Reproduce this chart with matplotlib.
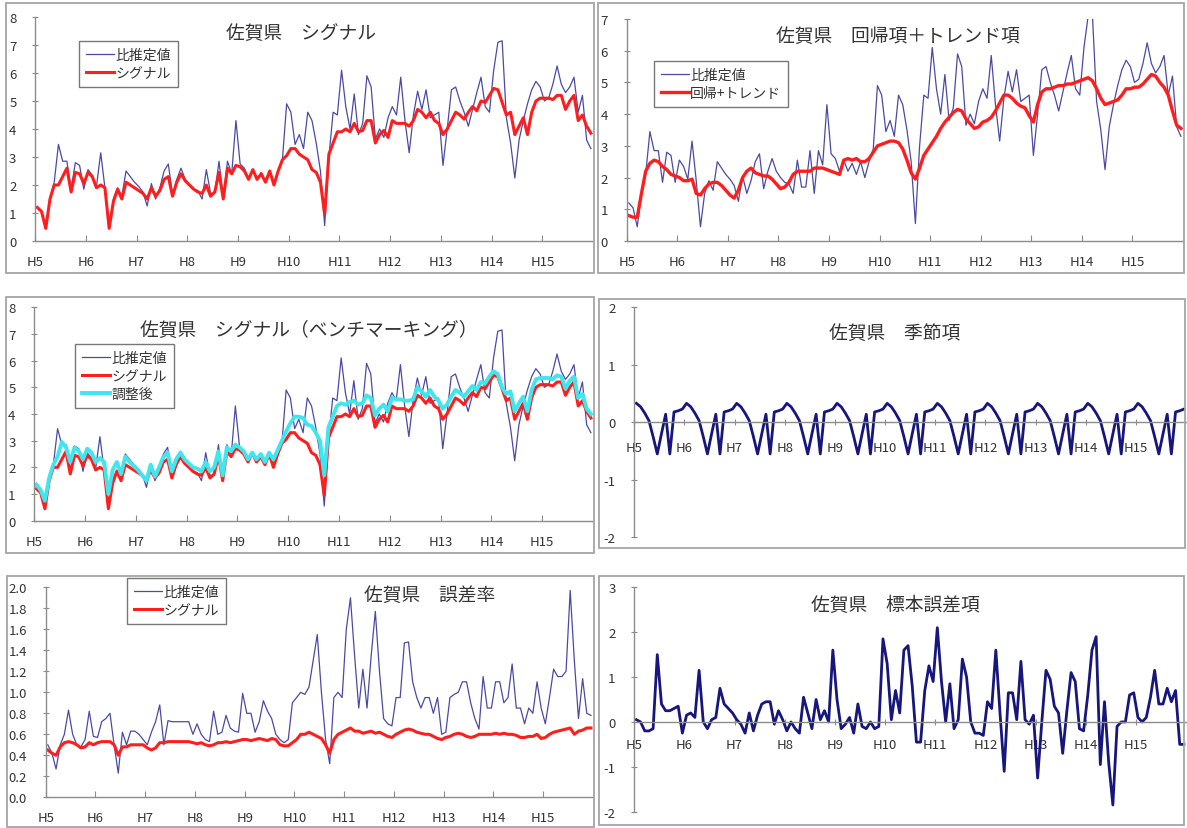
import numpy as np
import matplotlib
matplotlib.use('Agg')
import matplotlib.pyplot as plt
from matplotlib.patches import Rectangle
from matplotlib.lines import Line2D

plt.rcParams['font.family'] = ['Noto Sans CJK JP', 'DejaVu Sans']

# =========================
# DATA (monthly, H5.1 - H15.12)
# =========================
years = ['H5', 'H6', 'H7', 'H8', 'H9', 'H10', 'H11', 'H12', 'H13', 'H14', 'H15']

# 比推定値
hi_suitei = [
    1.2, 1.05, 0.45, 1.5, 2.1, 3.45, 2.85, 2.85, 1.85, 2.8, 2.7, 1.85,
    2.55, 2.35, 1.95, 3.15, 1.9, 0.45, 1.5, 1.9, 1.6, 2.5, 2.3, 2.1,
    1.95, 1.75, 1.25, 2.05, 1.5, 1.9, 2.5, 2.75, 1.65, 2.2, 2.6, 2.2,
    2.0, 1.85, 1.8, 1.5, 2.55, 1.7, 1.7, 2.85, 1.5, 2.85, 2.4, 4.3,
    2.75, 2.6, 2.2, 2.55, 2.2, 2.45, 2.1, 2.5, 2.0, 2.5, 2.9, 4.9,
    4.6, 3.45, 3.8, 3.3, 4.6, 4.3, 3.5, 2.5, 0.55, 3.0, 4.6, 4.5,
    6.1, 4.8, 4.0, 5.25, 3.8, 4.2, 5.9, 5.5, 3.65, 4.0, 3.7, 4.4,
    4.8, 4.5, 5.85, 4.3, 3.15, 4.5, 5.35, 4.7, 5.4, 4.4, 4.5, 4.6,
    2.7, 4.0, 5.4, 5.5, 5.0, 4.6, 4.1, 4.7, 5.3, 5.85, 4.8, 4.6,
    6.1, 7.1, 7.15, 4.4, 3.5, 2.25, 3.6, 4.3, 4.9, 5.4, 5.7, 5.5,
    5.0, 5.1, 5.6, 6.25, 5.6, 5.3, 5.5, 5.85, 4.6, 5.2, 3.6, 3.3,
]

# シグナル
signal = [
    1.2, 1.05, 0.45, 1.5, 2.0, 2.0, 2.3, 2.6, 1.75, 2.45, 2.4, 2.05,
    2.45, 2.3, 1.9, 2.0, 1.9, 0.45, 1.4, 1.85, 1.5, 2.1, 2.0, 1.9,
    1.8, 1.7, 1.5, 1.9, 1.6, 1.8, 2.2, 2.3, 1.6, 2.1, 2.4, 2.15,
    2.0, 1.85, 1.75, 1.7, 2.0, 1.6, 1.75, 2.45, 1.5, 2.6, 2.4, 2.7,
    2.65, 2.5, 2.2, 2.55, 2.2, 2.4, 2.1, 2.5, 2.0, 2.5, 2.9, 3.05,
    3.3, 3.3, 3.1, 3.0, 2.9, 2.55, 2.45, 2.1, 0.95, 3.1, 3.5, 3.9,
    3.9, 4.0, 3.9, 4.2, 3.9, 3.95, 4.3, 4.3, 3.5, 3.8, 3.95, 3.7,
    4.3, 4.2, 4.2, 4.2, 4.1, 4.3, 4.7, 4.6, 4.4, 4.6, 4.3, 4.2,
    3.8, 4.0, 4.3, 4.6, 4.5, 4.35, 4.6, 4.8, 4.65, 5.0, 4.95, 5.2,
    5.45, 5.4, 4.95, 4.5, 4.6, 3.8, 4.1, 4.4, 3.8, 4.6, 5.0, 5.1,
    5.1, 5.1, 5.05, 5.2, 5.2, 4.7, 5.0, 5.2, 4.3, 4.5, 4.1, 3.85,
]

# 回帰項＋トレンド項
kaiki_trend = [
    0.8, 0.75, 0.75, 1.5, 2.2, 2.45, 2.55, 2.5, 2.35, 2.25, 2.1, 2.05,
    2.0, 1.9, 1.9, 1.95, 1.5, 1.45, 1.65, 1.8, 1.85, 1.85, 1.75, 1.6,
    1.45, 1.35, 1.6, 2.0, 2.2, 2.3, 2.15, 2.1, 2.05, 2.05, 1.95, 1.8,
    1.65, 1.7, 1.85, 2.1, 2.2, 2.2, 2.2, 2.2, 2.3, 2.3, 2.3, 2.25,
    2.2, 2.15, 2.1, 2.55, 2.6, 2.55, 2.6, 2.5, 2.5, 2.6, 2.8, 3.0,
    3.05, 3.1, 3.15, 3.15, 3.1, 2.9, 2.55, 2.15, 1.95, 2.3, 2.7, 2.9,
    3.1, 3.3, 3.55, 3.75, 3.9, 4.05, 4.15, 4.1, 3.85, 3.7, 3.55, 3.6,
    3.75, 3.8, 3.9, 4.1, 4.35, 4.6, 4.6, 4.5, 4.35, 4.25, 4.2, 3.95,
    3.75, 4.3, 4.7, 4.8, 4.8, 4.85, 4.9, 4.9, 4.95, 4.95, 5.0, 5.05,
    5.1, 5.15, 5.05, 4.8, 4.5, 4.3, 4.35, 4.4, 4.45, 4.6, 4.8, 4.8,
    4.85, 4.85, 4.95, 5.1, 5.25, 5.2, 5.0, 4.85, 4.6, 4.1, 3.65, 3.55,
]

# 調整後
chosei_go = [
    1.35, 1.15, 0.75, 1.6, 2.1, 2.4, 2.95, 2.75, 2.2, 2.75, 2.6, 2.3,
    2.7, 2.55, 2.2, 2.35, 2.2, 1.0, 1.9, 2.2, 1.75, 2.4, 2.2, 2.05,
    1.9, 1.7, 1.5, 2.1, 1.65, 2.0, 2.4, 2.55, 1.85, 2.3, 2.55, 2.3,
    2.15, 2.0, 1.95, 1.85, 2.2, 1.85, 2.0, 2.6, 1.7, 2.75, 2.6, 2.85,
    2.75, 2.6, 2.3, 2.55, 2.3, 2.5, 2.2, 2.55, 2.3, 2.65, 3.0, 3.35,
    3.65, 3.9, 3.9, 3.85, 3.6, 3.55, 3.3, 3.0, 1.7, 3.5, 3.9, 4.3,
    4.4, 4.35, 4.45, 4.5, 4.35, 4.4, 4.7, 4.6, 3.95, 4.2, 4.35, 4.1,
    4.6, 4.55, 4.55, 4.5, 4.5, 4.55, 5.0, 4.85, 4.65, 4.9, 4.65, 4.5,
    4.2, 4.35, 4.65, 4.9, 4.8, 4.65, 4.85, 5.05, 4.9, 5.2, 5.15, 5.4,
    5.6, 5.5, 5.0, 4.75, 4.85, 4.1, 4.4, 4.65, 4.1, 4.9, 5.3, 5.35,
    5.35, 5.35, 5.3, 5.45, 5.4, 4.95, 5.25, 5.4, 4.6, 4.75, 4.2, 4.0,
]

# 季節項 (same pattern every year)
kisetsu_year = [0.33, 0.27, 0.16, 0.03, -0.25, -0.55, -0.2, 0.14, -0.55, 0.18, 0.2, 0.23]
kisetsu = kisetsu_year * len(years)

# 標本誤差項
hyohon_gosa = [
    0.05, 0.0, -0.2, -0.2, -0.15, 1.5, 0.4, 0.25, 0.25, 0.3, 0.35, -0.25,
    0.15, 0.2, 0.1, 1.15, 0.0, -0.15, 0.05, 0.1, 0.75, 0.4, 0.3, 0.2,
    0.05, -0.05, -0.25, 0.2, -0.2, 0.15, 0.4, 0.45, 0.45, -0.05, 0.25, 0.05,
    -0.2, 0.0, -0.15, -0.25, 0.55, 0.2, -0.15, 0.5, 0.05, 0.25, 0.0, 1.6,
    0.5, -0.15, -0.05, 0.1, -0.25, 0.4, -0.1, -0.15, 0.0, -0.15, -0.1, 1.85,
    1.3, 0.05, 0.7, 0.2, 1.6, 1.7, 0.8, -0.45, -0.45, 0.7, 1.25, 0.9,
    2.1, 0.9, 0.0, 0.85, -0.15, 0.05, 1.4, 1.0, 0.0, -0.25, -0.25, -0.3,
    0.45, 0.3, 1.6, 0.2, -1.1, 0.65, 0.65, 0.05, 1.35, 0.05, -0.05, 0.15,
    -1.25, 0.0, 1.15, 0.95, 0.35, 0.2, -0.7, 0.25, 1.1, 0.9, -0.15, -0.2,
    0.6, 1.6, 1.9, -0.95, 0.45, -0.9, -1.85, -0.1, 0.0, 0.0, 0.6, 0.65,
    0.1, 0.0, 0.1, 0.55, 1.15, 0.4, 0.4, 0.75, 0.45, 0.7, -0.5, -0.5,
]

# 誤差率
gosa_hi = [
    0.5, 0.42, 0.27, 0.5, 0.6, 0.83, 0.6, 0.5, 0.48, 0.55, 0.82, 0.58,
    0.57, 0.72, 0.75, 0.8, 0.5, 0.23, 0.62, 0.5, 0.63, 0.63, 0.6, 0.55,
    0.5, 0.62, 0.72, 0.88, 0.5, 0.73, 0.72, 0.72, 0.72, 0.72, 0.72, 0.6,
    0.7, 0.6, 0.55, 0.53, 0.82, 0.6, 0.62, 0.78, 0.66, 0.63, 0.62, 0.99,
    0.8, 0.8, 0.62, 0.72, 0.92, 0.82, 0.75, 0.6, 0.55, 0.52, 0.55, 0.9,
    0.95, 1.0, 0.98, 1.05, 1.3, 1.55, 1.0, 0.55, 0.32, 0.95, 1.0, 0.95,
    1.6, 1.9, 1.35, 0.85, 1.22, 0.85, 1.35, 1.77, 1.2, 0.75, 0.7, 0.68,
    0.95, 0.95, 1.47, 1.48, 1.1, 0.95, 0.85, 0.95, 0.95, 0.8, 0.95, 0.6,
    0.62, 0.95, 0.98, 1.0, 1.1, 1.1, 0.9, 0.75, 0.65, 1.15, 0.85, 0.85,
    1.1, 1.1, 0.9, 0.95, 1.27, 0.85, 0.85, 0.7, 0.85, 0.8, 1.1, 0.85,
    0.7, 0.95, 1.22, 1.15, 1.15, 1.2, 1.97, 1.3, 0.75, 1.13, 0.8, 0.78,
]
gosa_sig = [
    0.45, 0.42, 0.4, 0.48, 0.52, 0.53, 0.52, 0.5, 0.47, 0.48, 0.52, 0.5,
    0.52, 0.53, 0.53, 0.53, 0.5, 0.4, 0.48, 0.48, 0.5, 0.5, 0.5, 0.5,
    0.47, 0.45, 0.47, 0.52, 0.52, 0.53, 0.53, 0.53, 0.53, 0.53, 0.53, 0.52,
    0.51, 0.52, 0.5, 0.49, 0.5, 0.52, 0.52, 0.53, 0.52, 0.53, 0.54, 0.55,
    0.55, 0.54, 0.55, 0.56, 0.55, 0.54, 0.56, 0.55, 0.5, 0.49, 0.49, 0.52,
    0.55, 0.6, 0.6, 0.62, 0.6, 0.58, 0.56, 0.5, 0.42, 0.55, 0.6, 0.62,
    0.64, 0.66, 0.63, 0.63, 0.61, 0.62, 0.63, 0.61, 0.62, 0.6, 0.58, 0.57,
    0.6, 0.62, 0.64, 0.65, 0.64, 0.62, 0.61, 0.6, 0.6, 0.58, 0.56, 0.55,
    0.57, 0.58, 0.6, 0.61, 0.6, 0.58, 0.57, 0.58, 0.6, 0.6, 0.6, 0.6,
    0.61, 0.6, 0.61, 0.6, 0.6, 0.59, 0.57, 0.57, 0.58, 0.58, 0.6, 0.56,
    0.57, 0.6, 0.62, 0.63, 0.64, 0.65, 0.66, 0.6, 0.63, 0.64, 0.66, 0.66,
]

for s in [hi_suitei, signal, kaiki_trend, chosei_go, kisetsu, hyohon_gosa, gosa_hi, gosa_sig]:
    assert len(s) == 132, len(s)

# =========================
# STYLE
# =========================
W, H = 1187, 829
BLUE = '#4a4aa6'
RED = '#ff1e1e'
CYAN = '#3ee6ee'
NAVY = '#16167c'
GRAY = '#8c8c8c'
TXT = '#333333'

fig = plt.figure(figsize=(W / 100, H / 100), dpi=100)
x = np.arange(132)


def px_axes(x0, y0, x1, y1):
    return fig.add_axes([x0 / W, 1 - y1 / H, (x1 - x0) / W, (y1 - y0) / H])


def frame(x0, y0, x1, y1):
    fig.patches.append(Rectangle((x0 / W, 1 - y1 / H), (x1 - x0) / W, (y1 - y0) / H,
                                 transform=fig.transFigure, fill=False,
                                 edgecolor='#a5a5a5', lw=1.3))


def title(cx, cy, s):
    fig.text(cx / W, 1 - cy / H, s, ha='center', va='center', fontsize=13.5, color=TXT)


def style(ax, ylim, yticks, ylabels, zero_axis=False, xpad=10, ypad=11):
    ax.set_xlim(-0.5, 131.5)
    ax.set_ylim(*ylim)
    ax.patch.set_alpha(0)
    for s in ['top', 'right']:
        ax.spines[s].set_visible(False)
    for s in ['left', 'bottom']:
        ax.spines[s].set_color(GRAY)
        ax.spines[s].set_linewidth(1.0)
    ax.set_xticks(np.arange(0, 132, 12) - 0.5)
    ax.set_xticklabels(years)
    ax.set_yticks(yticks)
    ax.set_yticklabels(ylabels)
    if zero_axis:
        ax.spines['bottom'].set_position(('data', 0))
        ax.tick_params(axis='x', direction='inout', length=5, pad=xpad)
    else:
        ax.tick_params(axis='x', direction='in', length=4, pad=xpad)
    ax.tick_params(axis='y', direction='inout', length=5, pad=ypad)
    ax.tick_params(colors=GRAY, labelcolor=TXT, labelsize=9.5)


def legend(ax, items, x0, y0):
    handles = [Line2D([], [], color=c, lw=lw) for c, lw, _ in items]
    labels = [t for _, _, t in items]
    lg = ax.legend(handles, labels, loc='upper left', bbox_to_anchor=(x0 / W, 1 - y0 / H),
                   bbox_transform=fig.transFigure, borderaxespad=0, frameon=True,
                   fancybox=False, edgecolor='#555555', fontsize=10, handlelength=2.0,
                   handletextpad=0.1, labelspacing=0.3, borderpad=0.5)
    lg.get_frame().set_linewidth(1.0)
    for t in lg.get_texts():
        t.set_color(TXT)


# =========================
# PANEL 1 : シグナル
# =========================
frame(6, 4, 594, 274)
ax1 = px_axes(35.2, 18, 593, 242)
ax1.plot(x, hi_suitei, color=BLUE, lw=0.9)
ax1.plot(x, signal, color=RED, lw=2.2)
style(ax1, (0, 8), range(0, 9), [str(v) for v in range(0, 9)])
legend(ax1, [(BLUE, 0.9, '比推定値'), (RED, 2.2, 'シグナル')], 79, 42)
title(301, 33, '佐賀県　シグナル')

# =========================
# PANEL 2 : 回帰項＋トレンド項
# =========================
frame(598, 4, 1184, 274)
ax2 = px_axes(626.7, 20, 1183, 242)
ax2.plot(x, hi_suitei, color=BLUE, lw=0.9)
ax2.plot(x, kaiki_trend, color=RED, lw=2.4)
style(ax2, (0, 7), range(0, 8), [str(v) for v in range(0, 8)])
legend(ax2, [(BLUE, 0.9, '比推定値'), (RED, 2.4, '回帰+トレンド')], 654, 62)
title(898, 36, '佐賀県　回帰項＋トレンド項')

# =========================
# PANEL 3 : ベンチマーキング
# =========================
frame(6, 298, 594, 554)
ax3 = px_axes(34.3, 308.3, 593, 521.7)
ax3.plot(x, hi_suitei, color=BLUE, lw=0.9)
ax3.plot(x, signal, color=RED, lw=2.2)
ax3.plot(x, chosei_go, color=CYAN, lw=2.8)
style(ax3, (0, 8), range(0, 9), [str(v) for v in range(0, 9)])
legend(ax3, [(BLUE, 0.9, '比推定値'), (RED, 2.2, 'シグナル'), (CYAN, 2.8, '調整後')], 75, 345)
title(309, 330, '佐賀県　シグナル（ベンチマーキング）')

# =========================
# PANEL 4 : 季節項
# =========================
frame(599, 300, 1185, 549)
ax4 = px_axes(634.3, 308.3, 1186, 538.3)
ax4.plot(x, kisetsu, color=NAVY, lw=2.0)
style(ax4, (-2, 2), range(-2, 3), [str(v) for v in range(-2, 3)], zero_axis=True, xpad=11)
title(895, 333, '佐賀県　季節項')

# =========================
# PANEL 5 : 誤差率
# =========================
frame(7, 577, 594, 828)
ax5 = px_axes(45.7, 588.3, 593, 798.3)
ax5.plot(x, gosa_hi, color=BLUE, lw=0.9)
ax5.plot(x, gosa_sig, color=RED, lw=2.2)
yt = np.arange(0, 2.01, 0.2)
style(ax5, (0, 2), yt, ['%.1f' % v for v in yt])
legend(ax5, [(BLUE, 0.9, '比推定値'), (RED, 2.2, 'シグナル')], 127, 579)
title(430, 595, '佐賀県　誤差率')

# =========================
# PANEL 6 : 標本誤差項
# =========================
frame(599, 577, 1184, 826)
ax6 = px_axes(634.3, 588.3, 1186, 812.7)
ax6.plot(x, hyohon_gosa, color=NAVY, lw=2.0)
style(ax6, (-2, 3), range(-2, 4), [str(v) for v in range(-2, 4)], zero_axis=True, xpad=9)
title(895, 605, '佐賀県　標本誤差項')

fig.savefig('out.png', dpi=100)
